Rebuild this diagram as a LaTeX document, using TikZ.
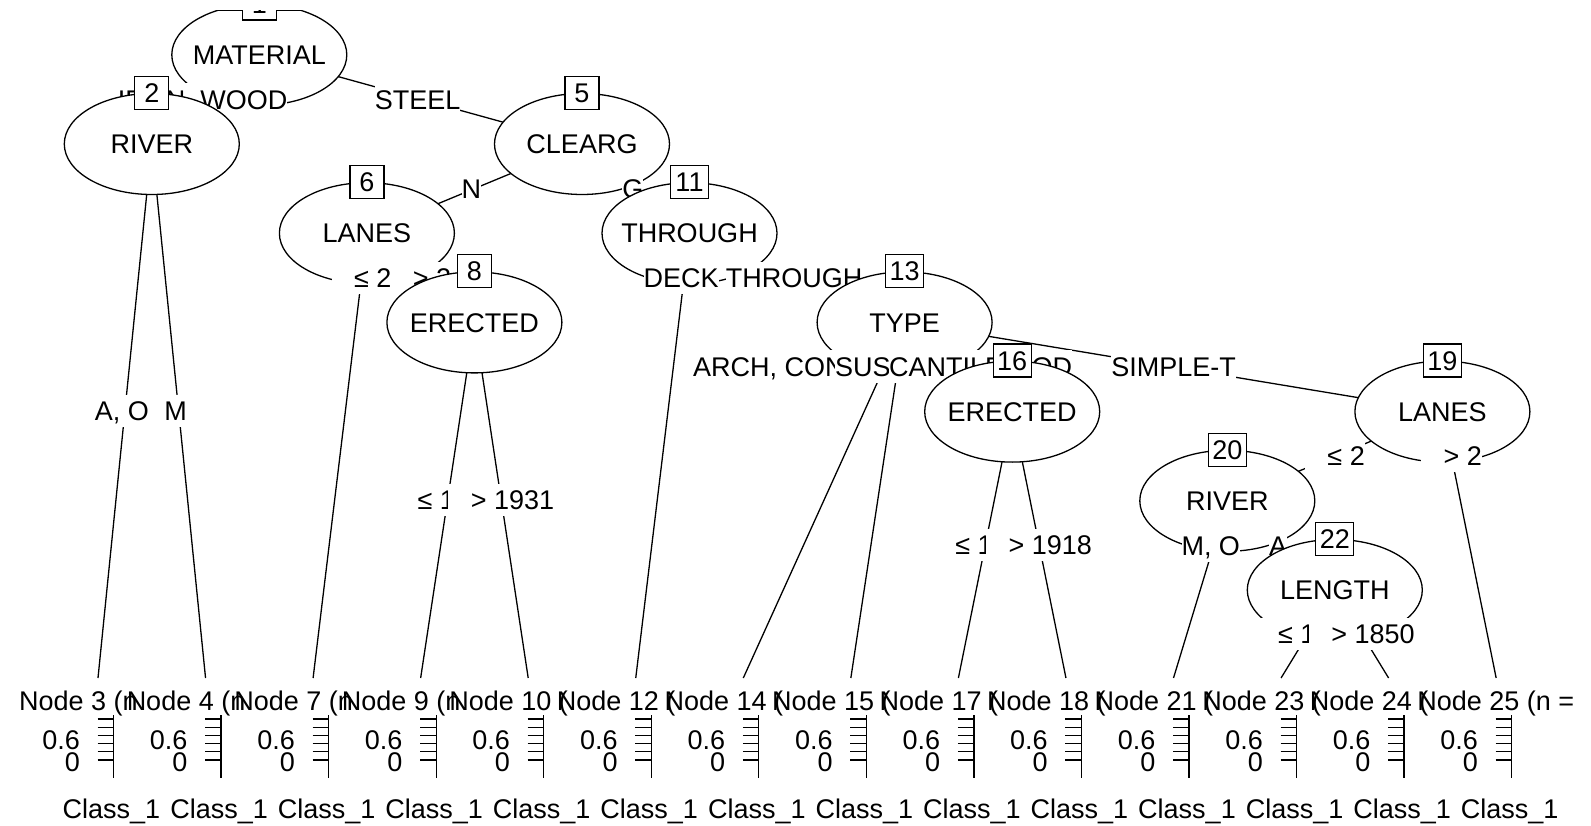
\documentclass[tikz,border=0pt]{standalone}
\usepackage{fontspec}
\setmainfont{Liberation Sans}
\usetikzlibrary{shapes.geometric,calc}

\tikzset{
  txt/.style={font=\fontsize{27}{32.4}\selectfont, inner sep=0pt, text height=19.3pt, text depth=0pt},
  lbl/.style={txt, fill=white, minimum height=32.4pt},
  tlbl/.style={lbl, xshift=-3pt},
  ell/.style={ellipse, draw, fill=white, line width=1.3pt, minimum width=175pt, minimum height=101pt, inner sep=0pt},
  idbox/.style={txt, draw, fill=white, line width=1.3pt, minimum width=34pt, minimum height=33pt},
  edge/.style={line width=1.3pt},
}

% inner node: ellipse, variable name, id box on top
\newcommand\innernode[5][]{%
  \node[ell] (#2) at (#3) {};
  \node[txt] (#2t) at (#2.center) {#4};
  \node[idbox,#1] (#2b) at (#2.north) {#5};
}

% terminal panel hanging below coordinate #1
\newcommand\leafpanel[3]{%
  \begin{scope}
    \clip ($(#1)+(-80,-18)$) rectangle ($(#1)+(#3,44)$);
    \node[txt, anchor=west] (#1l) at ($(#1)+(-79,23)$) {Node #2 (n =};
  \end{scope}
  \draw[edge] ($(#1)+(15.5,37)$) -- ($(#1)+(15.5,100)$);
  \foreach \k in {0,...,5}
    \draw[edge] ($(#1)+(-0.5,41+8.2*\k)$) -- ($(#1)+(15.5,41+8.2*\k)$);
  \node[txt, anchor=east] (#1a) at ($(#1)+(-18,61.5)$) {0.6};
  \node[txt, anchor=east] (#1b) at ($(#1)+(-18,84)$) {0};
  \node[txt] (#1c) at ($(#1)+(13.5,131)$) {Class\_1};
}

\begin{document}
\begin{tikzpicture}[x=1pt, y=-1pt]
\useasboundingbox (0,0) rectangle (1591,826);

% inner node centres
\coordinate (p1)  at (259.3,54.8);
\coordinate (p2)  at (151.8,144);
\coordinate (p5)  at (582,144);
\coordinate (p6)  at (366.9,233.2);
\coordinate (p8)  at (474.4,322.4);
\coordinate (p11) at (689.5,233.2);
\coordinate (p13) at (904.6,322.4);
\coordinate (p16) at (1012.2,411.6);
\coordinate (p19) at (1442.4,411.6);
\coordinate (p20) at (1227.3,500.8);
\coordinate (p22) at (1334.8,590);
% terminal tops
\coordinate (t3)  at (98,678);
\coordinate (t4)  at (205.55,678);
\coordinate (t7)  at (313.1,678);
\coordinate (t9)  at (420.65,678);
\coordinate (t10) at (528.2,678);
\coordinate (t12) at (635.75,678);
\coordinate (t14) at (743.3,678);
\coordinate (t15) at (850.85,678);
\coordinate (t17) at (958.4,678);
\coordinate (t18) at (1065.95,678);
\coordinate (t21) at (1173.5,678);
\coordinate (t23) at (1281.05,678);
\coordinate (t24) at (1388.6,678);
\coordinate (t25) at (1496.15,678);

% ---- node 1
\draw[edge] (p1) -- (p2);
\draw[edge] (p1) -- (p5);
\innernode{n1}{p1}{MATERIAL}{1}
\draw[edge] ($(p1)+(-43,-44.2)$) -- ($(p1)+(43,-44.2)$);
\node[idbox] (n1b2) at (n1.north) {1};
\node[tlbl] (e1a) at ($(p1)!0.5!(p2)$) {IRON, WOOD};
\node[tlbl] (e1b) at ($(p1)!0.5!(p5)$) {STEEL};

% ---- node 2
\draw[edge] (p2) -- (t3);
\draw[edge] (p2) -- (t4);
\innernode{n2}{p2}{RIVER}{2}
\node[tlbl] (e2a) at ($(p2)!0.5!(t3)$) {A, O};
\node[tlbl] (e2b) at ($(p2)!0.5!(t4)$) {M};
\leafpanel{t3}{3}{40}
\leafpanel{t4}{4}{40}

% ---- node 5
\draw[edge] (p5) -- (p6);
\draw[edge] (p5) -- (p11);
\innernode{n5}{p5}{CLEARG}{5}
\node[tlbl] (e5a) at ($(p5)!0.5!(p6)$) {N};
\node[tlbl] (e5b) at ($(p5)!0.5!(p11)$) {G};

% ---- node 6
\draw[edge] (p6) -- (t7);
\draw[edge] (p6) -- (p8);
\innernode{n6}{p6}{LANES}{6}
\node[lbl] (e6a) at ($(p6)!0.1003!(t7)$) {\phantom{0} ≤ 2};
\node[lbl] (e6b) at ($(p6)!0.5!(p8)$) {\phantom{0} > 2};
\leafpanel{t7}{7}{40}

% ---- node 8
\draw[edge] (p8) -- (t9);
\draw[edge] (p8) -- (t10);
\innernode{n8}{p8}{ERECTED}{8}
\node[lbl] (e8a) at ($(p8)!0.5!(t9)$) {\phantom{0} ≤ 1931};
\node[lbl] (e8b) at ($(p8)!0.5!(t10)$) {\phantom{0} > 1931};
\leafpanel{t9}{9}{40}
\leafpanel{t10}{10}{40}

% ---- node 11
\draw[edge] (p11) -- (t12);
\draw[edge] (p11) -- (p13);
\innernode[minimum width=38pt]{n11}{p11}{THROUGH}{11}
\node[tlbl] (e11a) at ($(p11)!0.1003!(t12)$) {DECK};
\node[tlbl] (e11b) at ($(p11)!0.5!(p13)$) {THROUGH};
\leafpanel{t12}{12}{40}

% ---- node 13
\draw[edge] (p13) -- (t14);
\draw[edge] (p13) -- (t15);
\draw[edge] (p13) -- (p16);
\draw[edge] (p13) -- (p19);
\innernode[minimum width=38pt]{n13}{p13}{TYPE}{13}
\node[lbl, anchor=west] (e13a) at (693,366.5) {\makebox[379pt][l]{ARCH, CONT-T, NIL,\hfill WOOD}};
\node[lbl, anchor=west] (e13b) at (835,366.5) {SUSPEN};
\node[lbl, anchor=west] (e13c) at (889,366.5) {CANTILEV};
\node[lbl] (e13d) at ($(p13)!0.5!(p19)$) {SIMPLE-T};
\leafpanel{t14}{14}{40}
\leafpanel{t15}{15}{40}

% ---- node 16
\draw[edge] (p16) -- (t17);
\draw[edge] (p16) -- (t18);
\innernode[minimum width=38pt]{n16}{p16}{ERECTED}{16}
\node[lbl] (e16a) at ($(p16)!0.5!(t17)$) {\phantom{0} ≤ 1918};
\node[lbl] (e16b) at ($(p16)!0.5!(t18)$) {\phantom{0} > 1918};
\leafpanel{t17}{17}{40}
\leafpanel{t18}{18}{40}

% ---- node 19
\draw[edge] (p19) -- (p20);
\draw[edge] (p19) -- (t25);
\innernode[minimum width=38pt]{n19}{p19}{LANES}{19}
\node[lbl] (e19a) at ($(p19)!0.5!(p20)$) {\phantom{0} ≤ 2};
\node[lbl] (e19b) at ($(p19)!0.1674!(t25)$) {\phantom{0} > 2};

% ---- node 20
\draw[edge] (p20) -- (t21);
\draw[edge] (p20) -- (p22);
\innernode[minimum width=38pt]{n20}{p20}{RIVER}{20}
\node[tlbl] (e20a) at ($(p20)!0.2517!(t21)$) {M, O};
\node[tlbl] (e20b) at ($(p20)!0.5!(p22)$) {A};
\leafpanel{t21}{21}{40}

% ---- node 22
\draw[edge] (p22) -- (t23);
\draw[edge] (p22) -- (t24);
\innernode[minimum width=38pt]{n22}{p22}{LENGTH}{22}
\node[lbl] (e22a) at ($(p22)!0.5!(t23)$) {\phantom{0} ≤ 1850};
\node[lbl] (e22b) at ($(p22)!0.5!(t24)$) {\phantom{0} > 1850};
\leafpanel{t23}{23}{40}
\leafpanel{t24}{24}{40}

\leafpanel{t25}{25}{88}

% blank strip along the top edge
\fill[white] (-1,-1) rectangle (1592,10);
\end{tikzpicture}
\end{document}
